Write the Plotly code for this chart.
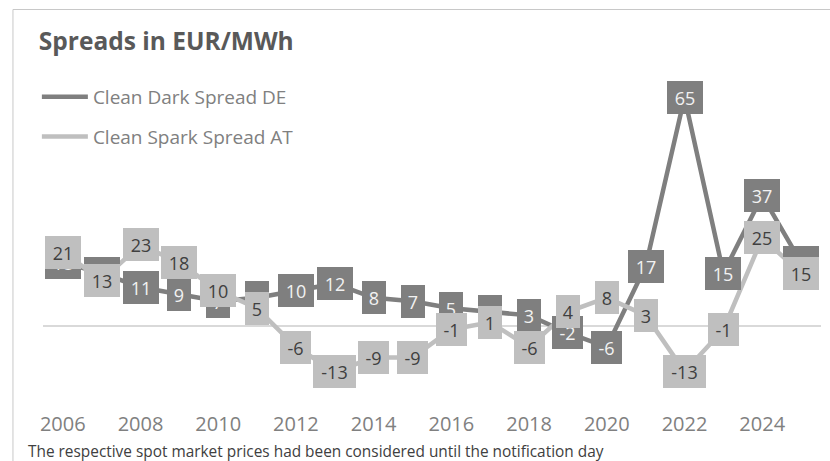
import plotly.graph_objects as go

years = list(range(2006, 2026))
dark_de = [18, 15, 11, 9, 7, 8, 10, 12, 8, 7, 5, 4, 3, -2, -6, 17, 65, 15, 37, 18]
light_at = [21, 13, 23, 18, 10, 5, -6, -13, -9, -9, -1, 1, -6, 4, 8, 3, -13, -1, 25, 15]
tick_years = list(range(2006, 2025, 2))
series_names = ["Clean Dark Spread DE", "Clean Spark Spread AT"]

W, H = 830, 461
DARK = "#7f7f7f"
LIGHT = "#bfbfbf"
FONT = "Open Sans"

def px_x(p):
    return p / W

def px_y(p):
    return 1 - p / H

fig = go.Figure()
fig.add_trace(go.Scatter(x=years, y=dark_de, mode="lines", name=series_names[0],
                         line=dict(color=DARK, width=4.5), legendgroup="a", hoverinfo="skip"))
fig.add_trace(go.Scatter(x=years, y=light_at, mode="lines", name=series_names[1],
                         line=dict(color=LIGHT, width=4.5), legendgroup="b", hoverinfo="skip"))

def box_width(v):
    s = str(v)
    nd = len(s.lstrip("-"))
    return 12 + 12 * nd + (7 if s.startswith("-") else 0)

annotations = []
for vals, bg, fg in ((dark_de, DARK, "#f2f2f2"), (light_at, LIGHT, "#404040")):
    for x, v in zip(years, vals):
        annotations.append(dict(x=x, y=v, xref="x", yref="y", text=str(v), showarrow=False,
                                xanchor="center", yanchor="middle", bgcolor=bg,
                                width=box_width(v), height=33, borderpad=0, borderwidth=0,
                                font=dict(family=FONT, size=18, color=fg)))

annotations.append(dict(x=px_x(23), y=px_y(451), xref="paper", yref="paper",
                        text="The respective spot market prices had been considered until the notification day",
                        showarrow=False, xanchor="left", yanchor="middle",
                        font=dict(family=FONT, size=15.4, color="#404040")))

fig.update_layout(
    width=W, height=H,
    margin=dict(l=0, r=0, t=0, b=0),
    paper_bgcolor="white", plot_bgcolor="white",
    title=dict(text="<b>Spreads in EUR/MWh</b>", x=px_x(36), xanchor="left", xref="paper",
               y=px_y(41), yanchor="middle", yref="paper",
               font=dict(family=FONT, size=24.5, color="#595959")),
    xaxis=dict(domain=[px_x(40.5), px_x(820.5)], range=[2005.5, 2025.5],
               tickvals=tick_years, ticktext=[str(t) for t in tick_years],
               showgrid=False, zeroline=False, showline=False, ticks="",
               tickfont=dict(family=FONT, size=20, color="#808080")),
    yaxis=dict(domain=[px_y(410), px_y(62)], range=[-23.9, 75],
               showticklabels=False, showgrid=False, zeroline=True,
               zerolinecolor="#d9d9d9", zerolinewidth=1.5),
    showlegend=True,
    legend=dict(x=px_x(34), y=px_y(78), xanchor="left", yanchor="top",
                font=dict(family=FONT, size=19, color="#808080"),
                tracegroupgap=12, itemwidth=46, bgcolor="rgba(0,0,0,0)"),
    annotations=annotations,
    shapes=[dict(type="rect", xref="paper", yref="paper", x0=px_x(10), x1=1.05,
                 y0=-0.05, y1=px_y(9.5), line=dict(color="#c8c8c8", width=1),
                 fillcolor="rgba(0,0,0,0)", layer="below")],
)

fig.write_html("out.html", config={"displayModeBar": False},
               post_script="document.body.style.margin='0';document.body.style.overflow='hidden';")
